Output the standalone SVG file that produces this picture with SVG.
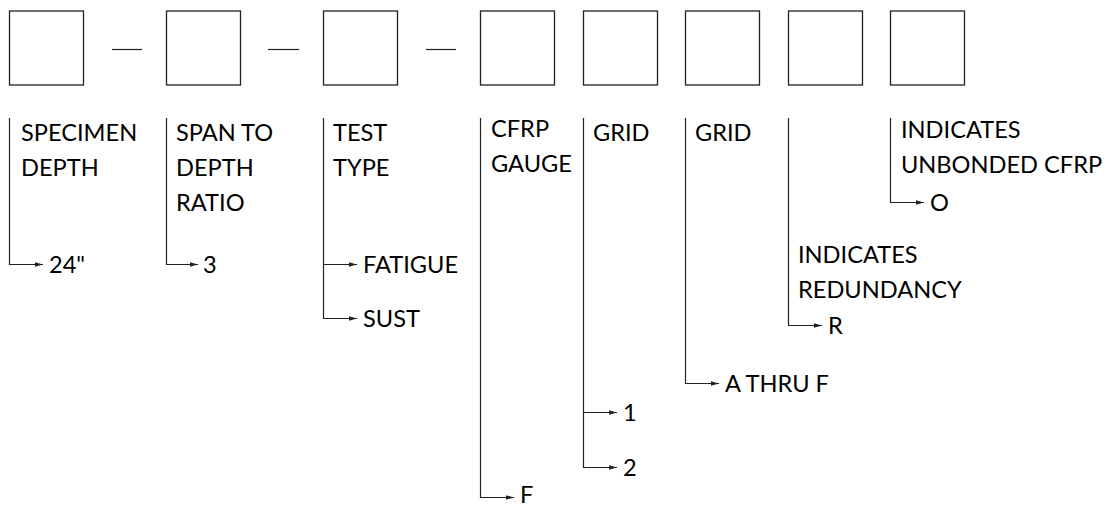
<svg xmlns="http://www.w3.org/2000/svg" width="1113" height="506" viewBox="0 0 1113 506">
<defs>
<style>
.box{fill:#fff;stroke:#222;stroke-width:1.3}
.ln{fill:none;stroke:#222;stroke-width:1.2}
.t{font-family:Lato,"Open Sans",sans-serif;font-size:23.6px;fill:#000}
</style>
<marker id="ah" viewBox="0 0 8 6" refX="8" refY="3" markerWidth="8" markerHeight="6" markerUnits="userSpaceOnUse" orient="auto">
<path d="M0,0.8 L8,3 L0,5.2 Z" fill="#222"/>
</marker>
</defs>
<rect width="1113" height="506" fill="#fff"/>
<g id="boxes">
<rect id="box1" class="box" x="9.5" y="11" width="74" height="74"/>
<rect id="box2" class="box" x="166.5" y="11" width="74" height="74"/>
<rect id="box3" class="box" x="323.5" y="11" width="74" height="74"/>
<rect id="box4" class="box" x="480.5" y="11" width="74" height="74"/>
<rect id="box5" class="box" x="583.5" y="11" width="74" height="74"/>
<rect id="box6" class="box" x="685.5" y="11" width="74" height="74"/>
<rect id="box7" class="box" x="788.5" y="11" width="74" height="74"/>
<rect id="box8" class="box" x="890.5" y="11" width="74" height="74"/>
</g>
<g id="dashes" class="ln">
<line x1="112" y1="49.5" x2="142" y2="49.5"/>
<line x1="268" y1="49.5" x2="299" y2="49.5"/>
<line x1="426" y1="49.5" x2="456" y2="49.5"/>
</g>
<g id="connectors" class="ln">
<path d="M9.5,118 V264.5 H43" marker-end="url(#ah)"/>
<path d="M166.5,118 V264.5 H198" marker-end="url(#ah)"/>
<path d="M323.5,118 V318.5 H357" marker-end="url(#ah)"/>
<path d="M323.5,264.5 H357" marker-end="url(#ah)"/>
<path d="M480.5,118 V497.5 H514" marker-end="url(#ah)"/>
<path d="M583.5,118 V467.5 H617" marker-end="url(#ah)"/>
<path d="M583.5,412.5 H617" marker-end="url(#ah)"/>
<path d="M685.5,118 V383.5 H719" marker-end="url(#ah)"/>
<path d="M788.5,118 V325.5 H822" marker-end="url(#ah)"/>
<path d="M890.5,118 V202.5 H924" marker-end="url(#ah)"/>
</g>
<g id="label1" class="t">
<text x="21" y="141">SPECIMEN</text>
<text x="21" y="176">DEPTH</text>
<text x="49" y="273">24"</text>
</g>
<g id="label2" class="t">
<text x="176" y="141">SPAN TO</text>
<text x="176" y="176">DEPTH</text>
<text x="176" y="211">RATIO</text>
<text x="203" y="273">3</text>
</g>
<g id="label3" class="t">
<text x="333" y="141">TEST</text>
<text x="333" y="176">TYPE</text>
<text x="363" y="273">FATIGUE</text>
<text x="363" y="327">SUST</text>
</g>
<g id="label4" class="t">
<text x="491" y="137">CFRP</text>
<text x="491" y="172">GAUGE</text>
<text x="520" y="503">F</text>
</g>
<g id="label5" class="t">
<text x="593" y="141">GRID</text>
<text x="623" y="421">1</text>
<text x="623" y="476">2</text>
</g>
<g id="label6" class="t">
<text x="695" y="141">GRID</text>
<text x="725" y="392">A THRU F</text>
</g>
<g id="label7" class="t">
<text x="798" y="263">INDICATES</text>
<text x="798" y="298">REDUNDANCY</text>
<text x="828" y="334">R</text>
</g>
<g id="label8" class="t">
<text x="901" y="138">INDICATES</text>
<text x="901" y="173">UNBONDED CFRP</text>
<text x="930" y="211">O</text>
</g>
</svg>
